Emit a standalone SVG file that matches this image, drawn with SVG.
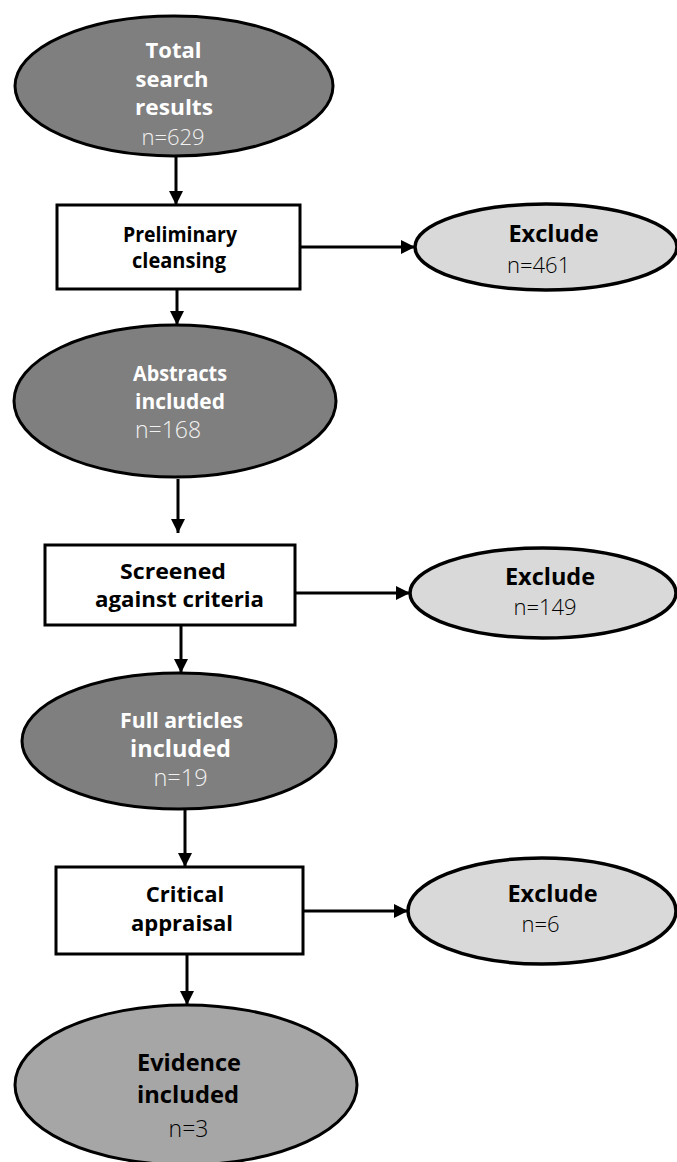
<svg xmlns="http://www.w3.org/2000/svg" width="677" height="1162" viewBox="0 0 677 1162">
<style>
.dark{fill:#7f7f7f;stroke:#000;stroke-width:3}
.light{fill:#d9d9d9;stroke:#000;stroke-width:3.5}
.mid{fill:#a6a6a6;stroke:#000;stroke-width:3}
.box{fill:#fff;stroke:#000;stroke-width:3}
.b{font-family:"Open Sans","DejaVu Sans",sans-serif;font-weight:700;font-size:22px;text-anchor:middle}
.n{font-family:"Open Sans","DejaVu Sans",sans-serif;font-weight:300;font-size:22px;text-anchor:middle}
.w{fill:#fff}
.wn{fill:#f2f2f2}
.k{fill:#000}
.conn line{stroke:#000;stroke-width:3}
</style>
<defs>
<marker id="ah" viewBox="0 0 14 14" refX="14" refY="7" markerWidth="14" markerHeight="14" markerUnits="userSpaceOnUse" orient="auto">
<path d="M0,0 L14,7 L0,14 z" fill="#000"/>
</marker>
</defs>
<rect width="677" height="1162" fill="#fff"/>
<g id="connectors" class="conn">
<line x1="176" y1="156" x2="176" y2="205" marker-end="url(#ah)"/>
<line x1="300" y1="247" x2="415" y2="247" marker-end="url(#ah)"/>
<line x1="177" y1="289" x2="177" y2="325" marker-end="url(#ah)"/>
<line x1="178" y1="479" x2="178" y2="533" marker-end="url(#ah)"/>
<line x1="295" y1="593" x2="410" y2="593" marker-end="url(#ah)"/>
<line x1="181" y1="626" x2="181" y2="673" marker-end="url(#ah)"/>
<line x1="185" y1="809" x2="185" y2="867" marker-end="url(#ah)"/>
<line x1="303" y1="911" x2="408" y2="911" marker-end="url(#ah)"/>
<line x1="187" y1="954" x2="187" y2="1005" marker-end="url(#ah)"/>
</g>
<g id="total">
<ellipse class="dark" cx="174" cy="86" rx="159" ry="70"/>
<text class="b w" x="173.5" y="58">Total</text>
<text class="b w" x="172" y="87">search</text>
<text class="b w" x="174" y="115" textLength="78" lengthAdjust="spacingAndGlyphs">results</text>
<text class="n wn" x="173" y="145">n=629</text>
</g>
<g id="prelim">
<rect class="box" x="57" y="205" width="243" height="84"/>
<text class="b k" x="180" y="242" style="font-size:21px" textLength="114" lengthAdjust="spacingAndGlyphs">Preliminary</text>
<text class="b k" x="179" y="268" style="font-size:21px" textLength="94" lengthAdjust="spacingAndGlyphs">cleansing</text>
</g>
<g id="exclude1">
<ellipse class="light" cx="546" cy="247" rx="131" ry="43"/>
<text class="b k" x="553.5" y="242" style="font-size:23.5px">Exclude</text>
<text class="n k" x="507" y="273" style="text-anchor:start">n=461</text>
</g>
<g id="abstracts">
<ellipse class="dark" cx="175" cy="401" rx="161" ry="76"/>
<text class="b w" x="180" y="381" textLength="94" lengthAdjust="spacingAndGlyphs">Abstracts</text>
<text class="b w" x="180" y="409" textLength="90" lengthAdjust="spacingAndGlyphs">included</text>
<text class="n wn" x="135" y="438" style="text-anchor:start;font-size:23px">n=168</text>
</g>
<g id="screened">
<rect class="box" x="45" y="545" width="250" height="80"/>
<text class="b k" x="173" y="579" textLength="106" lengthAdjust="spacingAndGlyphs">Screened</text>
<text class="b k" x="179.5" y="607" textLength="169" lengthAdjust="spacingAndGlyphs">against criteria</text>
</g>
<g id="exclude2">
<ellipse class="light" cx="543" cy="593" rx="133" ry="45"/>
<text class="b k" x="550" y="585" style="font-size:23.5px">Exclude</text>
<text class="n k" x="545" y="615">n=149</text>
</g>
<g id="fullarticles">
<ellipse class="dark" cx="179" cy="741" rx="157" ry="68"/>
<text class="b w" x="181.5" y="728" textLength="123" lengthAdjust="spacingAndGlyphs">Full articles</text>
<text class="b w" x="180.5" y="757" style="font-size:23.5px">included</text>
<text class="n wn" x="180.5" y="786" style="font-size:23.5px">n=19</text>
</g>
<g id="critical">
<rect class="box" x="56" y="867" width="247" height="87"/>
<text class="b k" x="185" y="902">Critical</text>
<text class="b k" x="182" y="931">appraisal</text>
</g>
<g id="exclude3">
<ellipse class="light" cx="542" cy="911" rx="134" ry="53"/>
<text class="b k" x="552.5" y="902" style="font-size:23.5px">Exclude</text>
<text class="n k" x="540.5" y="932">n=6</text>
</g>
<g id="evidence">
<ellipse class="mid" cx="186" cy="1085" rx="171" ry="80"/>
<text class="b k" x="189" y="1071" style="font-size:23.5px" textLength="104" lengthAdjust="spacingAndGlyphs">Evidence</text>
<text class="b k" x="188" y="1103" style="font-size:23.5px" textLength="102" lengthAdjust="spacingAndGlyphs">included</text>
<text class="n k" x="188.5" y="1137" style="font-size:23px">n=3</text>
</g>
</svg>
